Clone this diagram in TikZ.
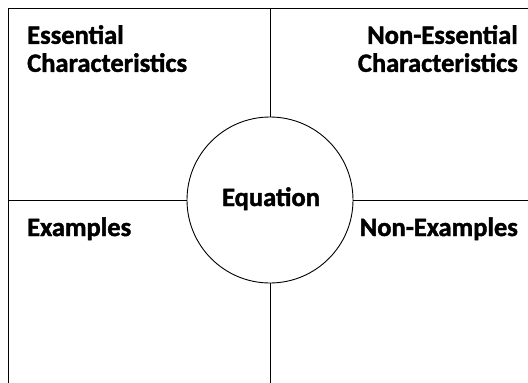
\documentclass[tikz,border=0pt]{standalone}
\usepackage{fontspec}
\setmainfont{Carlito}[BoldFont={Carlito Bold},BoldFeatures={FakeBold=1.5}]
\usetikzlibrary{positioning}

\begin{document}
\begin{tikzpicture}[
		x=1pt,y=-1pt,
		grid line/.style={line width=0.9pt},
		corner text/.style={font=\bfseries\fontsize{26.5}{28}\selectfont,inner sep=0pt},
		center circle/.style={draw,circle,line width=0.9pt,minimum size=166pt,inner sep=0pt}
		]
		
		% Frame
		\useasboundingbox (0,0) rectangle (528,383);
		\coordinate (tl) at (8,8);
		\coordinate (tr) at (528,8);
		\coordinate (bl) at (8,383);
		\draw[grid line] (tr) -- (tl) -- (bl);
		
		% Middle circle
		\node[center circle] (eq) at (270,200) {};
		\node[corner text,anchor=base] (eqtext) at (271,206) {Equation};
		
		% Cross lines
		\coordinate (mtop) at (270,8);
		\coordinate (mbot) at (270,383);
		\coordinate (mleft) at (8,200);
		\coordinate (mright) at (528,200);
		\draw[grid line] (mtop) -- (eq.north);
		\draw[grid line] (eq.south) -- (mbot);
		\draw[grid line] (mleft) -- (eq.west);
		\draw[grid line] (eq.east) -- (mright);
		
		% Quadrant labels
		\node[corner text,anchor=north west,align=left] (ess) at (27,25) {Essential\\Characteristics};
		\node[corner text,anchor=north east,align=right] (ness) at (518,25) {Non-Essential\\Characteristics};
		\node[corner text,anchor=base west] (ex) at (27,236) {Examples};
		\node[corner text,anchor=base east] (nex) at (518,236) {Non-Examples};
		
	\end{tikzpicture}
\end{document}
